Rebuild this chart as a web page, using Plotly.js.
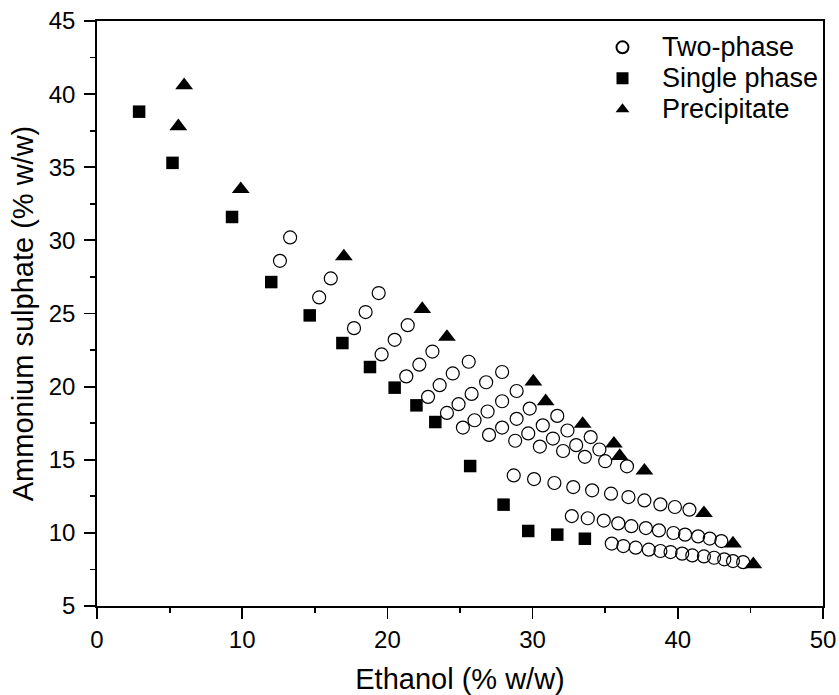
<!DOCTYPE html>
<html>
<head>
<meta charset="utf-8">
<script src="https://cdn.plot.ly/plotly-3.0.1.min.js"></script>
<style>html,body{margin:0;padding:0;background:#fff;}#chart{width:839px;height:695px;}</style>
</head>
<body>
<div id="chart"></div>
<script>
// Two-phase (open circles)
var twoPhaseX = [13.3,12.6, 16.1,15.3, 19.4,18.5,17.7, 21.4,20.5,19.6, 23.1,22.2,21.3,
  25.6,24.5,23.6,22.8, 27.9,26.8,25.8,24.9,24.1, 28.9,27.9,26.9,26.0,25.2,
  29.8,28.9,27.9,27.0, 31.7,30.7,29.7,28.8, 32.4,31.4,30.5, 34.0,33.0,32.1,
  34.6,33.6, 35.0,36.5,
  28.7,30.1,31.5,32.8,34.1,35.4,36.6,37.7,38.8,39.8,40.8,
  32.7,33.8,34.9,35.9,36.8,37.8,38.7,39.7,40.5,41.4,42.2,43.0,
  35.45,36.25,37.1,38.0,38.8,39.5,40.3,41.0,41.8,42.5,43.2,43.8,44.5];
var twoPhaseY = [30.2,28.6, 27.4,26.1, 26.4,25.1,24.0, 24.2,23.2,22.2, 22.4,21.5,20.7,
  21.7,20.9,20.1,19.3, 21.0,20.3,19.5,18.8,18.2, 19.7,19.0,18.3,17.7,17.2,
  18.5,17.8,17.2,16.7, 18.0,17.35,16.8,16.3, 17.0,16.45,15.9, 16.55,16.0,15.6,
  15.7,15.2, 14.9,14.55,
  13.93,13.68,13.41,13.13,12.91,12.68,12.45,12.22,11.95,11.77,11.59,
  11.15,11.0,10.84,10.65,10.46,10.33,10.17,9.99,9.88,9.76,9.61,9.44,
  9.27,9.10,8.99,8.85,8.76,8.69,8.58,8.46,8.39,8.30,8.19,8.07,8.0];
// Single phase (filled squares)
var singleX = [2.9,5.2,9.3,12.0,14.65,16.9,18.8,20.5,22.0,23.3,25.7,28.0,29.7,31.7,33.6];
var singleY = [38.8,35.3,31.6,27.15,24.87,22.98,21.34,19.93,18.72,17.58,14.57,11.93,10.13,9.88,9.6];
// Precipitate (filled triangles)
var precipX = [6.0,5.6,9.9,17.0,22.4,24.1,30.05,30.9,33.45,35.6,36.0,37.7,41.8,43.8,45.2];
var precipY = [40.6,37.8,33.5,28.9,25.3,23.4,20.35,19.0,17.45,16.1,15.25,14.25,11.35,9.27,7.85];

var seriesNames = ['Two-phase','Single phase','Precipitate'];
var xTitle = 'Ethanol (% w/w)';
var yTitle = 'Ammonium sulphate (% w/w)';

var FONT = 'Liberation Sans, Arial, Helvetica, sans-serif';
function nm(s){ return '<span style="font-size:27px">' + s + '</span>'; }

var traces = [
  {x: twoPhaseX, y: twoPhaseY, name: nm(seriesNames[0]), mode: 'markers', type: 'scatter',
   marker: {symbol: 'circle-open', size: 13, color: '#000', line: {width: 1.2, color: '#000'}}},
  {x: singleX, y: singleY, name: nm(seriesNames[1]), mode: 'markers', type: 'scatter',
   marker: {symbol: 'square', size: 12.5, color: '#000'}},
  {x: precipX, y: precipY, name: nm(seriesNames[2]), mode: 'markers', type: 'scatter',
   marker: {symbol: 'triangle-up', size: 15.5, color: '#000'}}
];

var axisCommon = {
  showgrid: false, zeroline: false, showline: true, linecolor: '#000', linewidth: 1.8,
  mirror: true, ticks: 'outside', ticklen: 11, tickwidth: 1.8, tickcolor: '#000',
  tickfont: {family: FONT, size: 24, color: '#000'}
};

var layout = {
  width: 839, height: 695,
  margin: {l: 97, r: 16, t: 21, b: 89, pad: 0},
  paper_bgcolor: '#fff', plot_bgcolor: '#fff',
  font: {family: FONT, color: '#000'},
  showlegend: true,
  legend: {x: 0.6694, y: 0.99, xanchor: 'left', yanchor: 'top', bgcolor: 'rgba(0,0,0,0)',
           borderwidth: 0, font: {family: FONT, size: 21.5, color: '#000'},
           itemsizing: 'constant', itemwidth: 69},
  xaxis: Object.assign({}, axisCommon, {
    range: [0, 50], dtick: 10, tick0: 0,
    minor: {dtick: 5, ticks: 'outside', ticklen: 5, tickwidth: 1.8, tickcolor: '#000', showgrid: false},
    title: {text: xTitle, font: {family: FONT, size: 29, color: '#000'}, standoff: 18}
  }),
  yaxis: Object.assign({}, axisCommon, {
    range: [5, 45], dtick: 5, tick0: 0, ticklabelstandoff: 4,
    minor: {dtick: 2.5, ticks: 'outside', ticklen: 5, tickwidth: 1.8, tickcolor: '#000', showgrid: false},
    title: {text: yTitle, font: {family: FONT, size: 29, color: '#000'}, standoff: 6}
  })
};

Plotly.newPlot('chart', traces, layout, {displayModeBar: false, staticPlot: true});
</script>
</body>
</html>
